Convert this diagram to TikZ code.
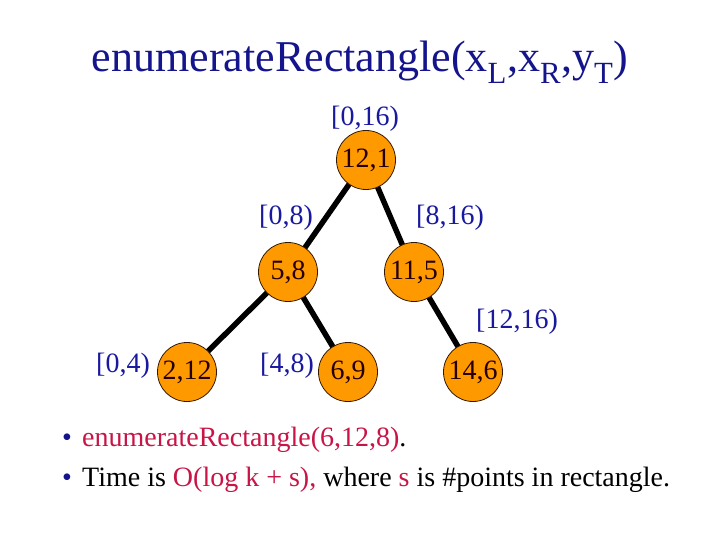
\documentclass[tikz,border=0pt]{standalone}
\usepackage{fontspec}
\setmainfont{Liberation Serif}
\definecolor{titleblue}{RGB}{20,20,140}
\definecolor{lblblue}{RGB}{25,25,160}
\definecolor{nodeorange}{RGB}{255,153,0}
\definecolor{crim}{RGB}{200,20,70}
\begin{document}
\begin{tikzpicture}[x=1pt,y=-1pt,
  tnode/.style={circle,draw=black!80!orange,line width=0.8pt,fill=nodeorange,minimum size=59pt,inner sep=0pt,font=\fontsize{28}{32}\selectfont,text=black!85!red},
  edge/.style={line width=5.5pt,black},
  lbl/.style={font=\fontsize{28}{32}\selectfont,text=lblblue,inner sep=0pt},
  btxt/.style={font=\fontsize{28}{32}\selectfont,anchor=base west,inner sep=0pt}]
\useasboundingbox (0,0) rectangle (720,540);
\node[font=\fontsize{44}{50}\selectfont,text=titleblue,inner sep=0pt] (title) at (360,62) {enumerateRectangle(x\textsubscript{L},x\textsubscript{R},y\textsubscript{T})};
\coordinate (cr) at (366,160);
\coordinate (ca) at (288,272);
\coordinate (cb) at (414,272);
\coordinate (cc) at (187,372);
\coordinate (cd) at (348,372);
\coordinate (ce) at (473,372);
\draw[edge] (cr) -- (ca);
\draw[edge] (cr) -- (cb);
\draw[edge] (ca) -- (cc);
\draw[edge] (ca) -- (cd);
\draw[edge] (cb) -- (ce);
\node[tnode] (r) at (cr) {12,1};
\node[tnode] (a) at (ca) {5,8};
\node[tnode] (b) at (cb) {11,5};
\node[tnode] (c) at (cc) {\raisebox{-3pt}{2,12}};
\node[tnode] (d) at (cd) {\raisebox{-3pt}{6,9}};
\node[tnode] (e) at (ce) {14,6};
\node[lbl] (lr) at (365,119) {[0,16)};
\node[lbl] (la) at (286,218) {[0,8)};
\node[lbl] (lb) at (450,218) {[8,16)};
\node[lbl] (le) at (517,322) {[12,16)};
\node[lbl] (lc) at (123,366) {[0,4)};
\node[lbl] (ld) at (287,366) {[4,8)};
\node[btxt,text=titleblue] (b1) at (62,446) {\textbullet};
\node[btxt] (t1) at (82,446) {\textcolor{crim}{enumerateRectangle(6,12,8)}.};
\node[btxt,text=titleblue] (b2) at (62,486) {\textbullet};
\node[btxt] (t2) at (82,486) {Time is \textcolor{crim}{O(log k + s),} where \textcolor{crim}{s} is \#points in rectangle.};
\end{tikzpicture}
\end{document}
